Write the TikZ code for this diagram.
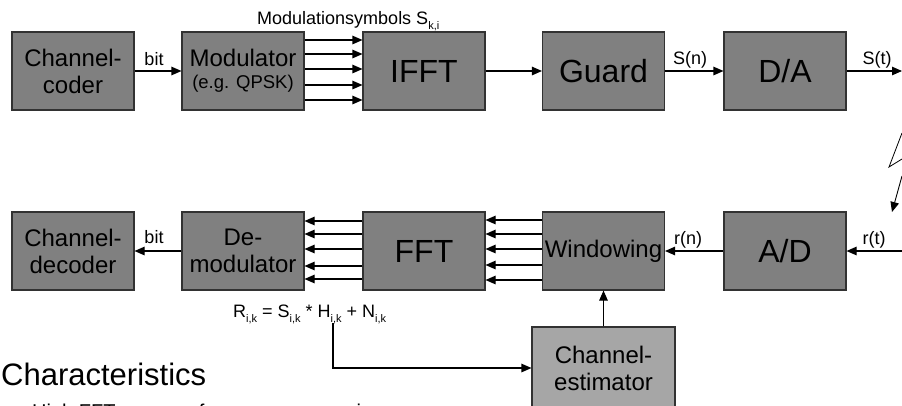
\documentclass[tikz,border=0pt]{standalone}
\usepackage{fontspec}
\setmainfont{Liberation Sans}
\newfontfamily\symfont{DejaVu Sans}
\usetikzlibrary{arrows.meta}
\definecolor{blockgray}{RGB}{128,128,128}
\definecolor{estgray}{RGB}{166,166,166}
\definecolor{edgegray}{RGB}{50,50,50}
\newcommand{\lowidx}[1]{\raisebox{-0.28em}{\fontsize{11}{11}\selectfont #1}}
\tikzset{
  block/.style={draw=edgegray, line width=1.1pt, fill=blockgray,
    minimum width=122pt, minimum height=78pt, inner sep=0pt,
    align=center, font=\fontsize{24}{27}\selectfont},
  bigblock/.style={block, font=\fontsize{32}{36}\selectfont},
  sig/.style={-{Triangle[length=10pt,width=8.5pt]}, line width=1.1pt},
  lbl/.style={font=\fontsize{18}{20}\selectfont, inner sep=0pt},
}
\begin{document}
\begin{tikzpicture}[x=1pt,y=-1pt]
\useasboundingbox (0,0) rectangle (902,405);
\clip (0,0) rectangle (902,405);

% transmitter chain
\node[block]    (coder) at (73,71)    {Channel-\\coder};
\node[block, font=\fontsize{24}{22}\selectfont] (mod) at (243,71)
  {Modulator\\{\fontsize{18.5}{22}\selectfont (e.g. QPSK)}};
\node[bigblock] (ifft)  at (424,71)   {IFFT};
\node[bigblock] (guard) at (603.5,71) {Guard};
\node[bigblock] (da)    at (785,71)   {D/A};

% receiver chain
\node[block]    (dec)   at (73,251)    {Channel-\\decoder};
\node[block]    (demod) at (243,251)   {De-\\modulator};
\node[bigblock] (fft)   at (424,251)   {FFT};
\node[block]    (win)   at (603.5,251) {Windowing};
\node[bigblock] (ad)    at (785,251)   {A/D};
\node[block, fill=estgray, minimum width=143pt, minimum height=82pt]
  (est) at (603.5,368) {Channel-\\estimator};

% transmitter connections
\draw[sig] (coder) -- (mod);
\foreach \o in {31,17,2,-14,-29}
  \draw[sig] ([yshift=\o pt]mod.east) -- ([yshift=\o pt]ifft.west);
\draw[sig] (ifft) -- (guard);
\draw[sig] (guard) -- (da);
\coordinate (txout) at (902,71);
\draw[sig] (da) -- (txout);

% radio channel
\coordinate (z1) at (902,133);
\coordinate (z2) at (889,167);
\coordinate (z3) at (902,159);
\coordinate (z4) at (902,176);
\coordinate (z5) at (892,212);
\draw[line width=0.8pt] (z1) -- (z2) -- (z3);
\draw[sig, line width=0.9pt] (z4) -- (z5);

% receiver connections
\coordinate (rxin) at (902,251);
\draw[sig] (rxin) -- (ad);
\draw[sig] (ad) -- (win);
\foreach \o in {31,17,2,-14,-29}
  \draw[sig] ([yshift=\o pt]win.west) -- ([yshift=\o pt]fft.east);
\foreach \o in {30,17,2,-15,-28}
  \draw[sig] ([yshift=\o pt]fft.west) -- ([yshift=\o pt]demod.east);
\draw[sig] (demod) -- (dec);
\draw[sig] (est) -- (win);
\coordinate (tap) at (333,323);
\draw[sig] (tap) |- (est.west);

% signal labels
\node[lbl, anchor=base west] (msym) at (257,24)
  {Modulationsymbols S\lowidx{k,i}};
\node[lbl, anchor=base] (bittx) at (154,65)  {bit};
\node[lbl, anchor=base] (sn)    at (690,64)  {S(n)};
\node[lbl, anchor=base] (st)    at (877,64)  {S(t)};
\node[lbl, anchor=base] (bitrx) at (154,243) {bit};
\node[lbl, anchor=base] (rn)    at (688,244) {r(n)};
\node[lbl, anchor=base] (rt)    at (874,244) {r(t)};
\node[lbl, anchor=base west] (rik) at (233,317)
  {R\lowidx{i,k} = S\lowidx{i,k} * H\lowidx{i,k} + N\lowidx{i,k}};

% notes below the diagram
\node[anchor=base west, inner sep=0pt, font=\fontsize{31}{34}\selectfont]
  (chars) at (1,385) {Characteristics};
\node[anchor=base west, inner sep=0pt, font=\fontsize{20}{22}\selectfont]
  (note) at (14,418) {\makebox[18pt][l]{\symfont ➔}High FFT memory for numerous carriers};
\end{tikzpicture}
\end{document}
